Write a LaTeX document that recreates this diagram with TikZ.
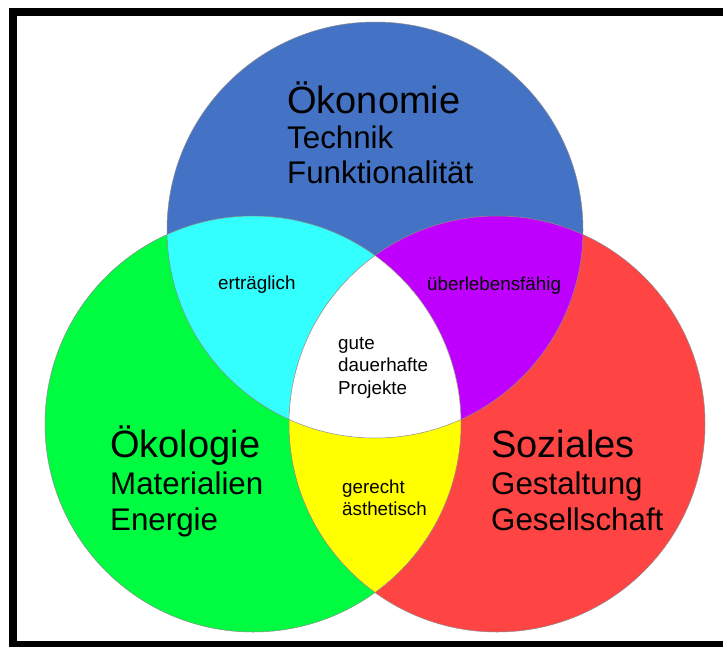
\documentclass[tikz,border=0pt]{standalone}
\usepackage{fontspec}
\setmainfont{Liberation Sans}
\definecolor{cblue}{RGB}{68,114,196}
\definecolor{cgreen}{RGB}{0,252,64}
\definecolor{cred}{RGB}{255,68,68}
\definecolor{ccyan}{RGB}{51,255,255}
\definecolor{cpurple}{RGB}{191,0,255}
\definecolor{cyellow}{RGB}{255,255,0}
\tikzset{
  big/.style={anchor=base west,inner sep=0pt,font=\fontsize{38}{38}\selectfont},
  mid/.style={anchor=base west,inner sep=0pt,font=\fontsize{31.3}{31.3}\selectfont},
  small/.style={anchor=base west,inner sep=0pt,font=\fontsize{18.8}{18.8}\selectfont},
  edge/.style={draw=black!45,line width=0.5pt}
}
\begin{document}
\begin{tikzpicture}[x=1pt,y=-1pt]
\useasboundingbox (0,0) rectangle (723,646);
\fill[white] (0,0) rectangle (723,646);
\def\cB{(375,230) circle[radius=208pt]}
\def\cG{(253,424) circle[radius=208pt]}
\def\cR{(497,424) circle[radius=208pt]}
\fill[cblue] \cB;
\fill[cgreen] \cG;
\fill[cred] \cR;
\begin{scope}\clip \cB; \fill[ccyan] \cG; \fill[cpurple] \cR; \end{scope}
\begin{scope}\clip \cG; \fill[cyellow] \cR; \end{scope}
\begin{scope}\clip \cB; \clip \cG; \fill[white] \cR; \end{scope}
\draw[edge] \cB; \draw[edge] \cG; \draw[edge] \cR;
\begin{scope}
\clip (0,0) rectangle (723,646);
\draw[line width=8pt] (740,12) -- (13,12) -- (13,645) -- (740,645);
\end{scope}
% texts
\node[big] (oek) at (287,113) {Ökonomie};
\node[mid] (tech) at (287,148) {Technik};
\node[mid] (funk) at (287,183) {Funktionalität};
\node[big] (oeko) at (110,457) {Ökologie};
\node[mid] (mat) at (110,494) {Materialien};
\node[mid] (ene) at (110,530) {Energie};
\node[big] (soz) at (491,457) {Soziales};
\node[mid] (gest) at (491,494) {Gestaltung};
\node[mid] (ges) at (491,530) {Gesellschaft};
\node[small] (ertr) at (218,289) {erträglich};
\node[small] (ueber) at (427,290) {überlebensfähig};
\node[small] (gute) at (338,349) {gute};
\node[small] (dauer) at (338,371) {dauerhafte};
\node[small] (proj) at (338,394) {Projekte};
\node[small] (ger) at (342,493) {gerecht};
\node[small] (aest) at (342,515) {ästhetisch};
\end{tikzpicture}
\end{document}
